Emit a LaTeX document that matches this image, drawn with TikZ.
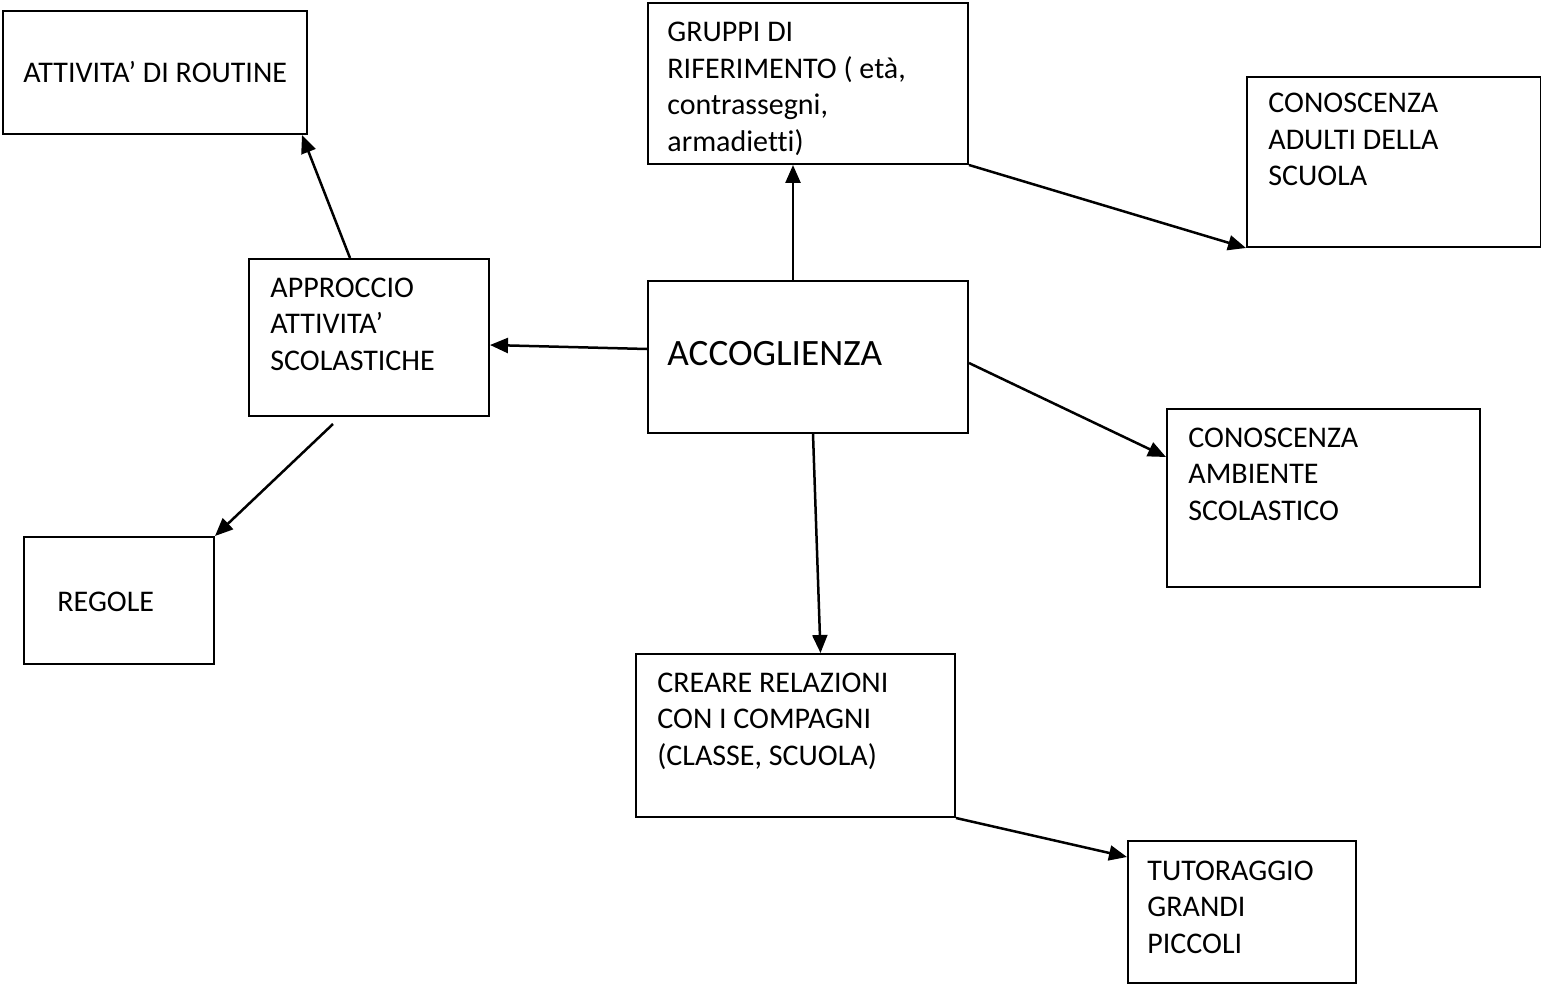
\documentclass[tikz,border=0pt]{standalone}
\usepackage{fontspec}
\setmainfont{Carlito}[Ligatures=NoCommon]
\usetikzlibrary{calc,arrows.meta}
\newcommand\boxlines[1]{\parbox[t]{12cm}{\raggedright #1}}
\tikzset{
  box/.style={draw, line width=1pt, rectangle, inner sep=0pt, anchor=north west},
  txt/.style={anchor=base west, inner sep=0pt, font=\fontsize{15pt}{18.25pt}\selectfont},
  bigtxt/.style={anchor=base west, inner sep=0pt, font=\fontsize{18.6pt}{22pt}\selectfont},
  arr/.style={line width=1.25pt, -{Triangle[length=9pt,width=7.5pt]}}
}
\begin{document}
\begin{tikzpicture}[x=0.5pt,y=-0.5pt]
\useasboundingbox (0,0) rectangle (1541,984);
% boxes
\node[box, minimum width=152pt, minimum height=61.5pt] (rout) at (2,10) {};
\node[box, minimum width=160pt, minimum height=80.5pt] (grp) at (647,2) {};
\node[box, minimum width=147pt, minimum height=85pt] (adu) at (1246,76) {};
\node[box, minimum width=120pt, minimum height=78.5pt] (appr) at (248,258) {};
\node[box, minimum width=160pt, minimum height=76pt] (acc) at (647,280) {};
\node[box, minimum width=156.5pt, minimum height=89pt] (amb) at (1166,408) {};
\node[box, minimum width=95pt, minimum height=63.5pt] (reg) at (23,536) {};
\node[box, minimum width=159.5pt, minimum height=81.5pt] (cre) at (635,653) {};
\node[box, minimum width=114pt, minimum height=71pt] (tut) at (1127,840) {};
% texts
\node[txt] (t-rout) at (23,83) {\boxlines{ATTIVITA’ DI ROUTINE}};
\node[txt] (t-grp) at (667,42) {\boxlines{GRUPPI DI\\RIFERIMENTO ( età,\\contrassegni,\\armadietti)}};
\node[txt] (t-adu) at (1268,113) {\boxlines{CONOSCENZA\\ADULTI DELLA\\SCUOLA}};
\node[txt] (t-appr) at (270,297) {\boxlines{APPROCCIO\\ATTIVITA’\\SCOLASTICHE}};
\node[bigtxt] (t-acc) at (667,365) {ACCOGLIENZA};
\node[txt] (t-amb) at (1188,447) {\boxlines{CONOSCENZA\\AMBIENTE\\SCOLASTICO}};
\node[txt] (t-reg) at (57,611) {\boxlines{REGOLE}};
\node[txt] (t-cre) at (657,692) {\boxlines{CREARE RELAZIONI\\CON I COMPAGNI\\(CLASSE, SCUOLA)}};
\node[txt] (t-tut) at (1147,880) {\boxlines{TUTORAGGIO\\GRANDI\\PICCOLI}};
% connectors
\draw[arr] ($(appr.north)+(-19,0)$) -- ($(rout.south east)+(-6,0)$);
\draw[arr] ($(acc.west)+(0,-8)$) -- ($(appr.east)+(0,7.5)$);
\draw[arr] ($(appr.south)+(-36,7)$) -- (reg.north east);
\draw[arr] ($(acc.north)+(-15,0)$) -- ($(grp.south)+(-15,0)$);
\draw[arr] (grp.south east) -- (adu.south west);
\draw[arr] ($(acc.east)+(0,6)$) -- ($(amb.west)+(0,-41)$);
\draw[arr] ($(acc.south)+(5,0)$) -- ($(cre.north)+(25,0)$);
\draw[arr] (cre.south east) -- ($(tut.north west)+(0,17)$);
\end{tikzpicture}
\end{document}
